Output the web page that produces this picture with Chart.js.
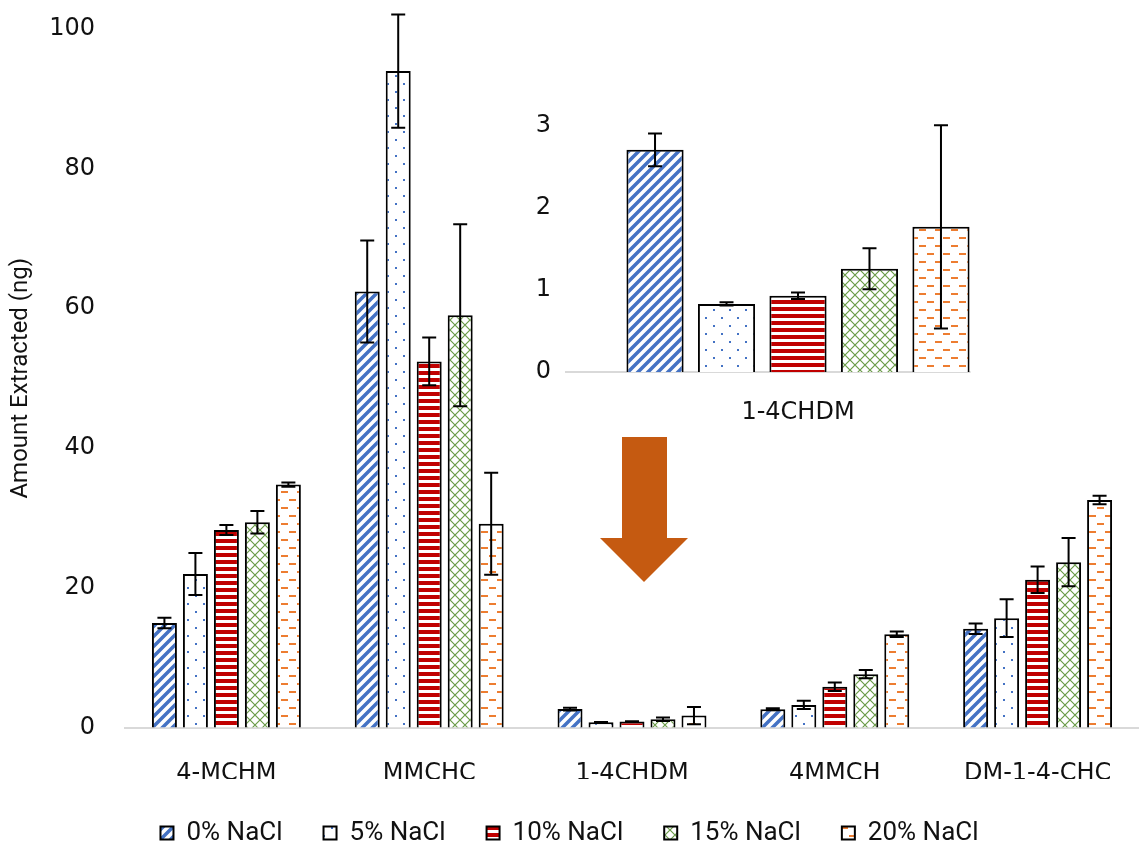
<!DOCTYPE html>
<html lang="en">
<head>
    <meta charset="UTF-8">
    <title>Amount Extracted by NaCl Level</title>
    <script src="https://cdn.jsdelivr.net/npm/chart.js@4"></script>
    <style>
        body {
            margin: 0;
            background: #fff;
        }
        .wrap {
            position: relative;
            width: 1139px;
            height: 853px;
            overflow: hidden;
        }
        #mainChart {
            position: absolute;
            left: 0;
            top: 0;
        }
        #insetChart {
            position: absolute;
            left: 510px;
            top: 90px;
        }
        #arrow {
            position: absolute;
            left: 598px;
            top: 435px;
        }
    </style>
</head>
<body>
    <div class="wrap">
        <canvas id="mainChart" width="1139" height="853"></canvas>
        <canvas id="insetChart" width="540" height="350"></canvas>
        <svg id="arrow" width="92" height="150">
            <polygon points="24,2 69,2 69,103 90,103 46,147 2,103 24,103" fill="#C55A11"/>
        </svg>
    </div>
    <script>
        const categories = ['4-MCHM', 'MMCHC', '1-4CHDM', '4MMCH', 'DM-1-4-CHC'];
        const seriesNames = ['0% NaCl', '5% NaCl', '10% NaCl', '15% NaCl', '20% NaCl'];

        // mean amount extracted (ng) per compound
        const nacl0 = [15.0, 62.4, 2.71, 2.67, 14.2];
        const nacl5 = [22.0, 93.9, 0.83, 3.3, 15.7];
        const nacl10 = [28.3, 52.4, 0.93, 5.9, 21.2];
        const nacl15 = [29.4, 59.0, 1.26, 7.7, 23.7];
        const nacl20 = [34.8, 29.2, 1.77, 13.4, 32.6];

        // standard deviations
        const err0 = [0.75, 7.3, 0.2, 0.15, 0.75];
        const err5 = [3.0, 8.1, 0.02, 0.6, 2.7];
        const err10 = [0.7, 3.4, 0.04, 0.6, 1.9];
        const err15 = [1.6, 13.0, 0.25, 0.6, 3.45];
        const err20 = [0.3, 7.3, 1.24, 0.4, 0.6];

        const yTicks = [0, 20, 40, 60, 80, 100];
        const insetTicks = [0, 1, 2, 3];
        const insetIndex = categories.indexOf('1-4CHDM');

        const values = [nacl0, nacl5, nacl10, nacl15, nacl20];
        const errors = [err0, err5, err10, err15, err20];

        function makePattern(w, h, draw) {
            const c = document.createElement('canvas');
            c.width = w;
            c.height = h;
            const g = c.getContext('2d');
            g.fillStyle = '#fff';
            g.fillRect(0, 0, w, h);
            draw(g);
            return document.getElementById('mainChart').getContext('2d').createPattern(c, 'repeat');
        }

        const patterns = [
            // wide upward diagonal
            makePattern(10, 10, g => {
                g.strokeStyle = '#4472C4';
                g.lineWidth = 3.5;
                g.beginPath();
                g.moveTo(-5, 15); g.lineTo(15, -5);
                g.moveTo(-5, 5); g.lineTo(5, -5);
                g.moveTo(5, 15); g.lineTo(15, 5);
                g.stroke();
            }),
            // sparse dots
            makePattern(16, 16, g => {
                g.fillStyle = '#4472C4';
                g.fillRect(3, 3, 2, 2);
                g.fillRect(11, 11, 2, 2);
            }),
            // horizontal stripes
            makePattern(8, 7, g => {
                g.fillStyle = '#C00000';
                g.fillRect(0, 0, 8, 4);
            }),
            // diagonal lattice
            makePattern(10, 10, g => {
                g.strokeStyle = '#6A9B48';
                g.lineWidth = 1.2;
                g.beginPath();
                g.moveTo(0, 0); g.lineTo(10, 10);
                g.moveTo(10, 0); g.lineTo(0, 10);
                g.stroke();
            }),
            // staggered dashes
            makePattern(16, 16, g => {
                g.fillStyle = '#ED7D31';
                g.fillRect(1, 3, 7, 2);
                g.fillRect(9, 11, 7, 2);
            })
        ];

        const errorBars = {
            id: 'errorBars',
            afterDatasetsDraw(chart) {
                const ctx = chart.ctx;
                const y = chart.scales.y;
                ctx.save();
                ctx.strokeStyle = '#000';
                ctx.lineWidth = 2;
                chart.data.datasets.forEach((ds, i) => {
                    chart.getDatasetMeta(i).data.forEach((bar, j) => {
                        const v = ds.data[j];
                        const e = ds.errors[j];
                        const top = y.getPixelForValue(v + e);
                        const bot = y.getPixelForValue(v - e);
                        ctx.beginPath();
                        ctx.moveTo(bar.x, top);
                        ctx.lineTo(bar.x, bot);
                        ctx.moveTo(bar.x - 7, top);
                        ctx.lineTo(bar.x + 7, top);
                        ctx.moveTo(bar.x - 7, bot);
                        ctx.lineTo(bar.x + 7, bot);
                        ctx.stroke();
                    });
                });
                ctx.restore();
            }
        };

        // baseline of the inset, running from the plot's left edge to the last bar
        const insetBaseline = {
            id: 'insetBaseline',
            beforeDatasetsDraw(chart) {
                const ctx = chart.ctx;
                const metas = chart.getSortedVisibleDatasetMetas();
                const last = metas[metas.length - 1].data[0];
                const y0 = chart.scales.y.getPixelForValue(0);
                ctx.save();
                ctx.strokeStyle = '#D9D9D9';
                ctx.lineWidth = 2;
                ctx.beginPath();
                ctx.moveTo(chart.chartArea.left, y0);
                ctx.lineTo(last.x + last.width / 2 + 1, y0);
                ctx.stroke();
                ctx.restore();
            }
        };

        const tickFont = { family: "'DejaVu Sans', Verdana, sans-serif", size: 24 };
        const textFont = "Roboto, 'Liberation Sans', sans-serif";

        new Chart(document.getElementById('mainChart'), {
            type: 'bar',
            data: {
                labels: categories,
                datasets: seriesNames.map((name, i) => ({
                    label: name,
                    data: values[i],
                    errors: errors[i],
                    backgroundColor: patterns[i],
                    borderColor: '#000',
                    borderWidth: 2,
                    categoryPercentage: 0.764,
                    barPercentage: 0.806
                }))
            },
            options: {
                responsive: false,
                animation: false,
                // wide legend spacing also pads the legend box vertically, so the bottom margin is trimmed
                layout: { padding: { top: 0, right: 0, bottom: -3, left: 0 } },
                plugins: {
                    tooltip: { enabled: false },
                    legend: {
                        position: 'bottom',
                        labels: {
                            boxWidth: 13,
                            boxHeight: 13,
                            padding: 41,
                            color: '#111',
                            font: { family: textFont, size: 26 }
                        }
                    }
                },
                scales: {
                    x: {
                        grid: { display: false },
                        border: { display: true, color: '#D9D9D9', width: 2 },
                        ticks: { color: '#111', font: tickFont, padding: 23 },
                        afterFit(scale) { scale.height = 51; }
                    },
                    y: {
                        min: 0,
                        max: 100,
                        afterBuildTicks(scale) { scale.ticks = yTicks.map(v => ({ value: v })); },
                        // invisible tick marks keep the labels away from the plot
                        grid: {
                            display: true,
                            drawOnChartArea: false,
                            drawTicks: true,
                            tickLength: 16,
                            color: 'rgba(0,0,0,0)'
                        },
                        border: { display: false },
                        ticks: { color: '#111', font: tickFont, padding: 14 },
                        title: {
                            display: true,
                            text: 'Amount Extracted (ng)',
                            color: '#111',
                            font: { family: textFont, size: 24 },
                            padding: { top: 7, bottom: 0 }
                        },
                        afterFit(scale) { scale.width = 125; }
                    }
                }
            },
            plugins: [errorBars]
        });

        new Chart(document.getElementById('insetChart'), {
            type: 'bar',
            data: {
                labels: [categories[insetIndex]],
                datasets: seriesNames.map((name, i) => ({
                    label: name,
                    data: [values[i][insetIndex]],
                    errors: [errors[i][insetIndex]],
                    backgroundColor: patterns[i],
                    borderColor: '#000',
                    borderWidth: 2,
                    categoryPercentage: 0.767,
                    barPercentage: 0.8
                }))
            },
            options: {
                responsive: false,
                animation: false,
                layout: { padding: { top: 36, right: 19, bottom: 0, left: 0 } },
                plugins: {
                    tooltip: { enabled: false },
                    legend: { display: false }
                },
                scales: {
                    x: {
                        grid: { display: false },
                        border: { display: false },
                        ticks: { color: '#111', font: tickFont, padding: 18 },
                        afterFit(scale) { scale.height = 68; }
                    },
                    y: {
                        min: 0,
                        max: 3,
                        afterBuildTicks(scale) { scale.ticks = insetTicks.map(v => ({ value: v })); },
                        grid: { display: false, drawTicks: false },
                        border: { display: false },
                        ticks: { color: '#111', font: tickFont, padding: 14 },
                        afterFit(scale) { scale.width = 55; }
                    }
                }
            },
            plugins: [insetBaseline, errorBars]
        });
    </script>
</body>
</html>
